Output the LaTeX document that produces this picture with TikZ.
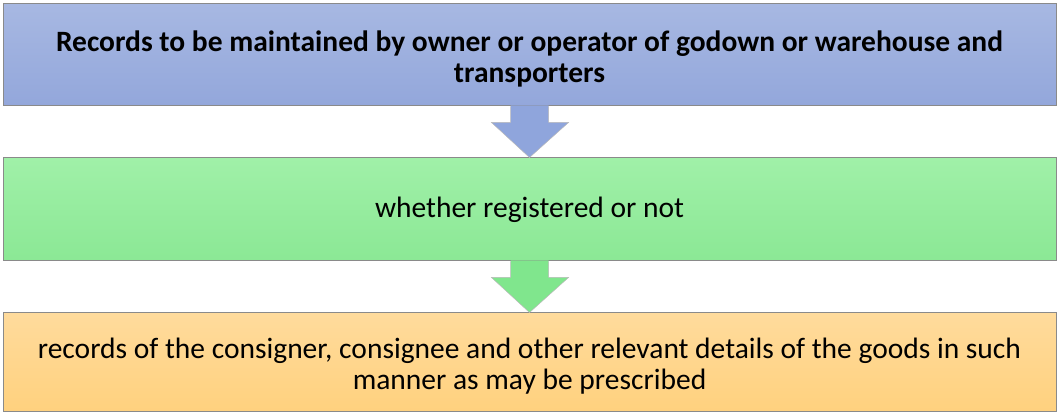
\documentclass[tikz,border=0pt]{standalone}
\usepackage{fontspec}
\setmainfont{Carlito}
\usetikzlibrary{calc}
\definecolor{bluetop}{HTML}{A7B8E2}
\definecolor{bluebot}{HTML}{93A7DB}
\definecolor{greentop}{HTML}{A0F0A8}
\definecolor{greenbot}{HTML}{8BE895}
\definecolor{orangetop}{HTML}{FFDB9C}
\definecolor{orangebot}{HTML}{FFD17E}
\definecolor{arrowblue}{HTML}{8FA5DC}
\definecolor{arrowgreen}{HTML}{80E68D}
\definecolor{edgegray}{HTML}{8A8A8A}
\tikzset{
  box/.style={draw=edgegray, line width=1pt, minimum width=1053pt, inner sep=0pt},
  boxtext/.style={inner sep=0pt, align=center, font=\fontsize{29.5}{31}\selectfont},
  blockarrow/.style={draw=edgegray!60, line width=0.5pt},
}
\begin{document}
\begin{tikzpicture}[x=1pt,y=1pt]
\useasboundingbox (0,0) rectangle (1058,414);
\node[box, minimum height=102pt, top color=bluetop, bottom color=bluebot] (b1) at (529.5,359) {};
\node[box, minimum height=103pt, top color=greentop, bottom color=greenbot] (b2) at (529.5,204.5) {};
\node[box, minimum height=99pt, top color=orangetop, bottom color=orangebot] (b3) at (529.5,51.5) {};
\node[boxtext, font=\fontsize{29.5}{31}\selectfont\bfseries] (t1) at ([yshift=-3.5pt]b1.center)
  {Records to be maintained by owner or operator of godown or warehouse and\\transporters};
\node[boxtext] (t2) at ([yshift=-0.5pt]b2.center) {whether registered or not};
\node[boxtext] (t3) at ([yshift=-4pt]b3.center)
  {records of the consigner, consignee and other relevant details of the goods in such\\manner as may be prescribed};
\fill[arrowblue] ($(b1.south)+(-19,1)$) -- ($(b1.south)+(19,1)$) -- ($(b1.south)+(19,-16)$) -- ($(b1.south)+(39,-16)$) -- (b2.north) -- ($(b1.south)+(-38,-16)$) -- ($(b1.south)+(-19,-16)$) -- cycle;
\draw[blockarrow] ($(b1.south)+(-19,0)$) -- ($(b1.south)+(-19,-16)$) -- ($(b1.south)+(-38,-16)$) -- (b2.north) -- ($(b1.south)+(39,-16)$) -- ($(b1.south)+(19,-16)$) -- ($(b1.south)+(19,0)$);
\fill[arrowgreen] ($(b2.south)+(-19,1)$) -- ($(b2.south)+(19,1)$) -- ($(b2.south)+(19,-16)$) -- ($(b2.south)+(39,-16)$) -- (b3.north) -- ($(b2.south)+(-38,-16)$) -- ($(b2.south)+(-19,-16)$) -- cycle;
\draw[blockarrow] ($(b2.south)+(-19,0)$) -- ($(b2.south)+(-19,-16)$) -- ($(b2.south)+(-38,-16)$) -- (b3.north) -- ($(b2.south)+(39,-16)$) -- ($(b2.south)+(19,-16)$) -- ($(b2.south)+(19,0)$);
\end{tikzpicture}
\end{document}
